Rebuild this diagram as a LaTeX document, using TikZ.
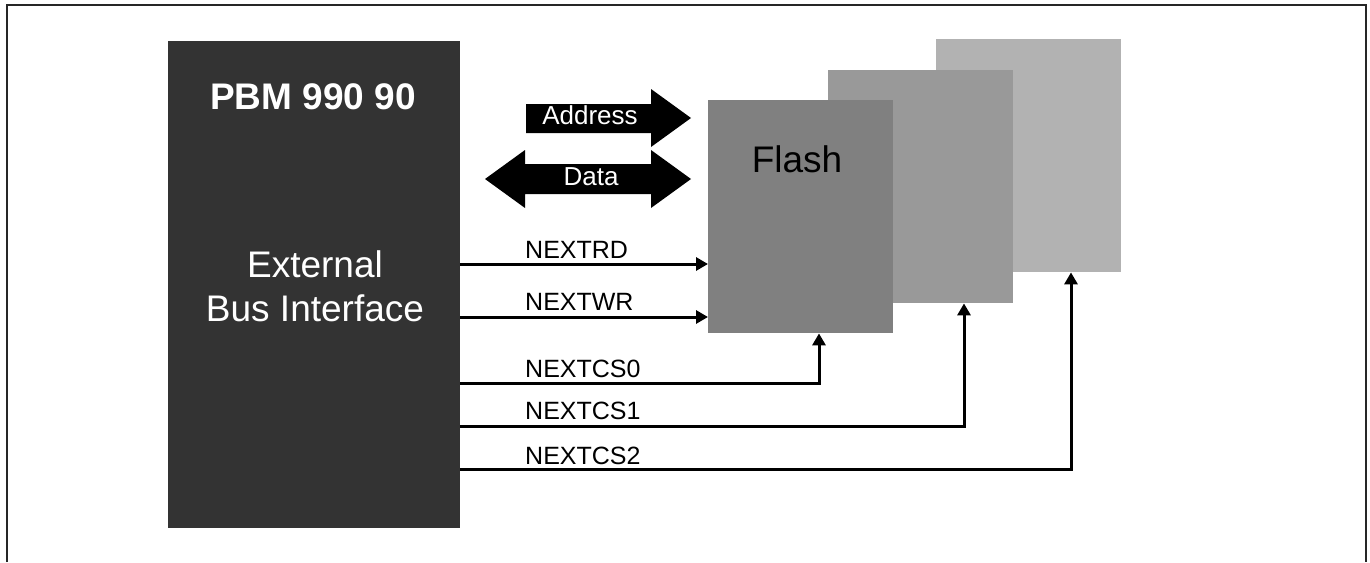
\documentclass[tikz,border=0pt]{standalone}
\usepackage{fontspec}
\setmainfont{Liberation Sans}
\usetikzlibrary{arrows.meta,calc}
\definecolor{ebigray}{HTML}{333333}
\definecolor{flashA}{HTML}{808080}
\definecolor{flashB}{HTML}{999999}
\definecolor{flashC}{HTML}{B2B2B2}
\tikzset{
  blockbox/.style={draw=none, inner sep=0pt, anchor=north west},
  sig/.style={line width=3pt, -{Triangle[length=12pt,width=13pt]}},
  siglabel/.style={anchor=base west, inner sep=0pt, font=\fontsize{25}{29}\selectfont},
  bigtext/.style={inner sep=0pt, anchor=base, font=\fontsize{37}{43}\selectfont},
  bustext/.style={inner sep=0pt, anchor=base, text=white, font=\fontsize{26}{30}\selectfont},
}
\begin{document}
\begin{tikzpicture}[x=1pt,y=-1pt]
\useasboundingbox (0,0) rectangle (1370,562);
% frame
\draw[line width=1.8pt, color=black!85] (7,562) -- (7,5) -- (1366,5) -- (1366,562);
% main block
\node[blockbox, fill=ebigray, minimum width=292pt, minimum height=487pt] (ebi) at (168,41) {};
\node[bigtext, text=white, font=\fontsize{37}{43}\selectfont\bfseries] (pbm) at (313,109) {PBM 990 90};
\node[bigtext, text=white] (ext) at (315,277) {External};
\node[bigtext, text=white] (bus) at (315,321) {Bus Interface};
% flash stack
\node[blockbox, fill=flashC, minimum width=185pt, minimum height=233pt] (flash3) at (936,39) {};
\node[blockbox, fill=flashB, minimum width=185pt, minimum height=233pt] (flash2) at (828,70) {};
\node[blockbox, fill=flashA, minimum width=185pt, minimum height=233pt] (flash) at (708,100) {};
\node[bigtext, text=black] (flashlbl) at (797,172) {Flash};
% bus arrows
\fill[black] (526,104) -- (651,104) -- (651,89) -- (691,118) -- (651,147) -- (651,133) -- (526,133) -- cycle;
\node[bustext] (addr) at (590,124) {Address};
\fill[black] (485,179) -- (525,150) -- (525,164) -- (651,164) -- (651,150) -- (691,179)
  -- (651,208) -- (651,194) -- (525,194) -- (525,208) -- cycle;
\node[bustext] (data) at (591,185) {Data};
% control signals
\draw[sig] (ebi.east |- 0,264) -- (flash.west |- 0,264);
\node[siglabel] (rd) at (525,258) {NEXTRD};
\draw[sig] (ebi.east |- 0,317) -- (flash.west |- 0,317);
\node[siglabel] (wr) at (525,310) {NEXTWR};
\draw[sig] (ebi.east |- 0,383) -| (819,0 |- flash.south);
\node[siglabel] (cs0) at (525,377) {NEXTCS0};
\draw[sig] (ebi.east |- 0,426) -| (964,0 |- flash2.south);
\node[siglabel] (cs1) at (525,419) {NEXTCS1};
\draw[sig] (ebi.east |- 0,469) -| (1071,0 |- flash3.south);
\node[siglabel] (cs2) at (525,464) {NEXTCS2};
\end{tikzpicture}
\end{document}
